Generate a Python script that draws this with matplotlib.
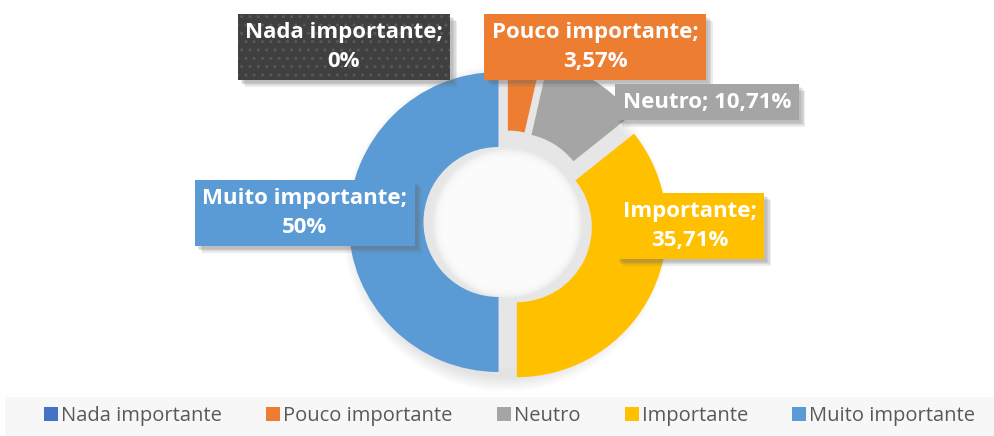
import numpy as np
import matplotlib.pyplot as plt
from matplotlib import patheffects as pe
from matplotlib.patches import Rectangle, Circle, Patch

categories = ['Nada importante', 'Pouco importante', 'Neutro', 'Importante', 'Muito importante']
values = [0, 3.57, 10.71, 35.71, 50]
pct_labels = ['0%', '3,57%', '10,71%', '35,71%', '50%']
colors = ['#4472C4', '#ED7D31', '#A5A5A5', '#FFC000', '#5B9BD5']

W, H = 995, 436
fig = plt.figure(figsize=(W / 100, H / 100), dpi=100)
fig.patch.set_facecolor('white')

# donut centre in pixels, 1 data unit = 150 px
cx, cy, R = 506, 222, 150
half = 1.25
ax = fig.add_axes([(cx - half * R) / W, (H - cy - half * R) / H, 2 * half * R / W, 2 * half * R / H])
ax.set_xlim(-half, half)
ax.set_ylim(-half, half)
ax.set_aspect('equal')
ax.axis('off')

# soft shadow behind the ring
for i in range(14):
    r = 1.09 - i * 0.007
    ax.add_patch(Circle((0, -0.04), r, color='#999999', alpha=0.02, lw=0, zorder=0))
ax.add_patch(Circle((0, 0), 0.98, color='#e6e6e6', lw=0, zorder=0))

explode = [0.07, 0.11, 0.11, 0.08, 0.05]
wedges, _ = ax.pie(values, colors=colors, startangle=90, counterclock=False,
                   explode=explode, radius=1.0,
                   wedgeprops=dict(width=0.5, linewidth=0))
for w in wedges:
    w.set_zorder(2)

# hole shading
ax.add_patch(Circle((0, 0), 0.5, color='#e8e8e8', lw=0, zorder=1))
for i in range(18):
    r = 0.495 - i * 0.007
    ax.add_patch(Circle((0.01, -0.01), r, color='white', alpha=0.22, lw=0, zorder=1))

# data labels (pixel centres of the boxes)
label_pos = [(344, 47), (595, 47), (707, 102), (690, 226), (305, 213)]
label_text = [
    'Nada importante;\n' + pct_labels[0],
    'Pouco importante;\n' + pct_labels[1],
    'Neutro; ' + pct_labels[2],
    'Importante;\n' + pct_labels[3],
    'Muito importante;\n' + pct_labels[4],
]
box_colors = ['#404040', colors[1], colors[2], colors[3], colors[4]]
shadow = [pe.SimplePatchShadow(offset=(o, -o), shadow_rgbFace='#666666', alpha=0.13)
          for o in (2, 3, 4, 5)] + [pe.Normal()]
txt_kw = dict(ha='center', va='center', fontsize=16, fontweight='bold', family='Open Sans',
              color='white', linespacing=1.55, zorder=5)
for i, (txt, (px, py)) in enumerate(zip(label_text, label_pos)):
    bb = dict(boxstyle='square,pad=0.33', facecolor=box_colors[i], edgecolor='none', linewidth=0)
    t = fig.text(px / W, 1 - py / H, txt, bbox=bb, **txt_kw)
    t.get_bbox_patch().set_path_effects(shadow)
    if i == 0:
        # dotted fill drawn on top, without shadow
        bb2 = dict(bb, hatch='..', edgecolor='#585858')
        fig.text(px / W, 1 - py / H, txt, bbox=bb2, **txt_kw)

# legend band
fig.patches.append(Rectangle((5 / W, 0), 1 - 5 / W, (H - 397) / H, transform=fig.transFigure,
                             facecolor='#f7f7f7', edgecolor='none', zorder=0))
handles = [Patch(facecolor=c, edgecolor='none') for c in colors]
fig.legend(handles, categories, loc='center', bbox_to_anchor=(0.512, 1 - 416 / H), ncol=5,
           frameon=False, prop=dict(family='Open Sans', size=14.5), labelcolor='#595959',
           handlelength=0.7, handleheight=0.7, handletextpad=0.15, columnspacing=2.2)

fig.savefig('out.png', dpi=100)
